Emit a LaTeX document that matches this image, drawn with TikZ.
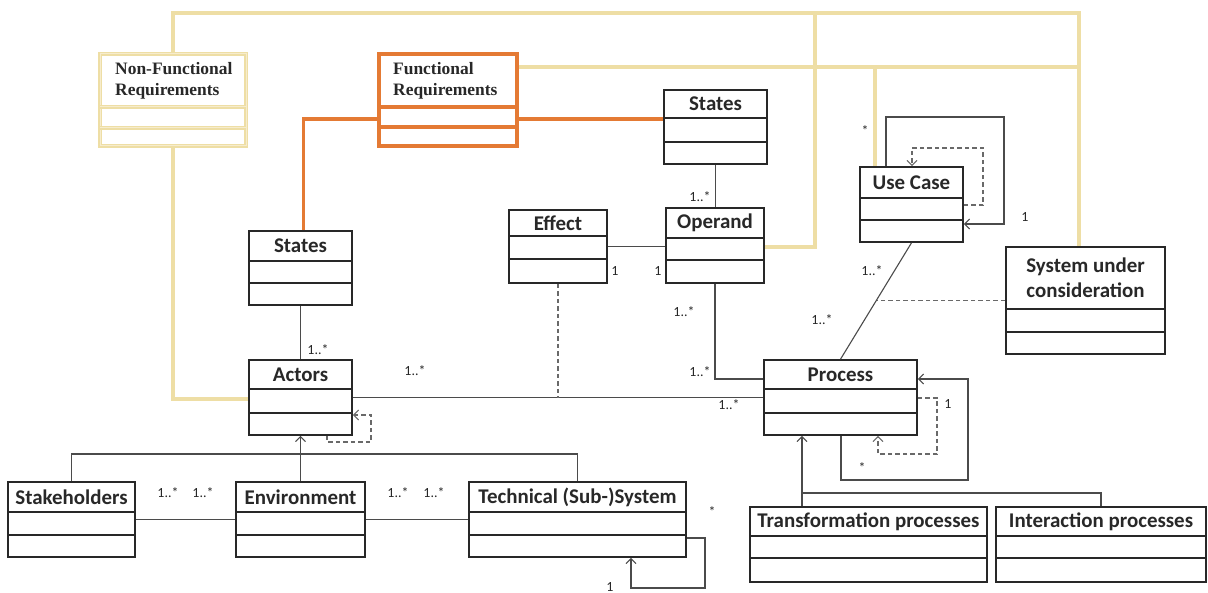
\documentclass[tikz,border=0pt]{standalone}
\usepackage{fontspec}
\setmainfont{Carlito}
\newfontfamily\nfrfont{Liberation Serif}
\usetikzlibrary{arrows.meta,fit,calc}
\definecolor{yel}{RGB}{238,222,165}
\definecolor{yelin}{RGB}{246,236,205}
\definecolor{ora}{RGB}{228,122,52}
\definecolor{ink}{RGB}{40,40,40}
\definecolor{lnk}{RGB}{75,75,75}
\definecolor{dlnk}{RGB}{105,105,105}
\tikzset{
 boxline/.style={draw=ink,line width=1.6bp},
 nfrbox/.style={draw=yel,line width=1.9bp,double=yelin,double distance=1bp},
 frbox/.style={draw=ora,line width=3.5bp},
 conn/.style={draw=lnk,line width=1.1bp},
 dsh/.style={draw=dlnk,line width=1.1bp,dash pattern=on 4.5bp off 3bp},
 sarrow/.style={-{Straight Barb[length=5bp,width=10bp]}},
 yline/.style={draw=yel,line width=3.5bp},
 oline/.style={draw=ora,line width=3.5bp},
 mult/.style={font=\fontsize{14}{16}\selectfont,inner sep=0pt,text=ink},
 hdr/.style={font=\fontsize{21}{25}\selectfont\bfseries,text=ink,inner sep=0pt,align=center},
 reqtxt/.style={font=\nfrfont\bfseries\fontsize{17.5}{21}\selectfont,text=ink,inner sep=0pt,align=left,anchor=north west},
}
% [style]{name}{x1}{y1}{x2}{y2}{d1}{d2}{text}
\newcommand\umlclass[9][boxline]{%
 \node[fit={(#3,#4) (#5,#6)},inner sep=0pt,#1] (#2) {};
 \draw[#1] (#3,#7) -- (#5,#7) (#3,#8) -- (#5,#8);
 \node[hdr] (#2-t) at ($(#3,#4)!0.5!(#5,#7)$) {#9};
}
\begin{document}
\begin{tikzpicture}[x=1bp,y=-1bp]
\fill[white] (0,0) rectangle (1208,593);
\useasboundingbox (0,0) rectangle (1208,593);

\coordinate (tr) at (1079,13);
\coordinate (t2) at (815,13);
\coordinate (t3) at (875,67);

% classes
\umlclass[nfrbox]{nfr}{100}{54}{246}{146}{107}{128}{}
\umlclass[frbox]{fr}{379}{54}{517}{146}{107}{127}{}
\umlclass{statesL}{249}{231}{352}{305}{261}{283}{States}
\umlclass{statesR}{664}{90}{767}{164}{118}{142}{States}
\umlclass{effect}{509}{210}{607}{283}{236}{259}{Effect}
\umlclass{operand}{666}{208}{764}{283}{238}{260}{Operand}
\umlclass{usecase}{860}{167}{963}{242}{198}{220}{Use Case}
\umlclass{suc}{1006}{247}{1165}{354}{309}{332}{System under\\consideration}
\umlclass{actors}{249}{360}{352}{435}{389}{413}{Actors}
\umlclass{process}{764}{360}{917}{435}{389}{413}{Process}
\umlclass{stake}{8}{482}{135}{557}{512}{535}{Stakeholders}
\umlclass{env}{236}{482}{365}{557}{512}{535}{Environment}
\umlclass{tech}{469}{482}{686}{557}{512}{535}{Technical (Sub-)System}
\umlclass{trans}{750}{507}{987}{582}{536}{558}{Transformation processes}
\umlclass{inter}{996}{507}{1206}{582}{536}{558}{Interaction processes}

\node[reqtxt] (nfrtext) at (115,62) {Non-Functional\\Requirements};
\node[reqtxt] (frtext) at (393,62) {Functional\\Requirements};

% yellow connectors
\draw[yline] ([yshift=1.5bp]nfr.north) |- (tr) -- (tr |- suc.north);
\draw[yline] (t2) |- (operand.east |- 0,247);
\draw[yline] (fr.east |- 0,67) -- (tr |- 0,67);
\draw[yline] (t3) -- (t3 |- usecase.north);
\draw[yline] ([yshift=-1.5bp]nfr.south) |- (actors.west |- 0,399);

% orange connectors
\draw[oline] (fr.west |- 0,119) -| ([xshift=3bp]statesL.north);
\draw[oline] (fr.east |- 0,119) -- (statesR.west |- 0,119);

% black connectors
\draw[conn] (statesR.south) -- (statesR.south |- operand.north);
\draw[conn] (operand.south) |- (process.west |- 0,379);
\draw[conn] (actors.east) -- (process.west);
\draw[dsh] (effect.south) -- (effect.south |- actors.east);
\draw[conn] (statesL.south) -- (actors.north);
\draw[conn] (effect.east) -- (effect.east -| operand.west);
\draw[conn] (usecase.south) -- (process.north) coordinate[pos=0.49] (m);
\draw[dsh] (suc.west) -- (suc.west -| m);

% self loops
\draw[conn,sarrow] (usecase.north -| 886,0) |- (1004,117) |- (usecase.east |- 0,224);
\draw[dsh,sarrow] (usecase.east |- 0,205) -| (983,148) -| (usecase.north -| 912,0);
\draw[conn,sarrow] (process.south -| 841,0) |- (968,480) |- (process.east |- 0,379);
\draw[dsh,sarrow] (process.east |- 0,398) -| (937,454) -| (process.south -| 878,0);
\draw[dsh,sarrow] (actors.south -| 327,0) |- (371,442) |- (actors.east |- 0,415);
\draw[conn,sarrow] (tech.east |- 0,538) -| (705,588) -| (tech.south -| 631,0);

% generalisations
\draw[conn] (stake.north) |- (tech.north |- 0,454) -- (tech.north);
\draw[conn,sarrow] (env.north) -- (actors.south);
\draw[conn] (stake.east) -- (env.west);
\draw[conn] (env.east) -- (tech.west);
\draw[conn,sarrow] (trans.north -| 802,0) -- (process.south -| 802,0);
\draw[conn] (inter.north) |- (802,493);

% multiplicities
\node[mult] (m01) at (700,197) {1..*};
\node[mult] (m02) at (615,271) {1};
\node[mult] (m03) at (658,271) {1};
\node[mult] (m04) at (865,131) {*};
\node[mult] (m05) at (1025,217) {1};
\node[mult] (m06) at (872,271) {1..*};
\node[mult] (m07) at (822,320) {1..*};
\node[mult] (m08) at (684,312) {1..*};
\node[mult] (m09) at (700,372) {1..*};
\node[mult] (m10) at (415,371) {1..*};
\node[mult] (m11) at (729,405) {1..*};
\node[mult] (m12) at (318,350) {1..*};
\node[mult] (m13) at (862,468) {*};
\node[mult] (m14) at (948,404) {1};
\node[mult] (m15) at (168,493) {1..*};
\node[mult] (m16) at (203,493) {1..*};
\node[mult] (m17) at (398,493) {1..*};
\node[mult] (m18) at (434,493) {1..*};
\node[mult] (m19) at (712,512) {*};
\node[mult] (m20) at (610,587) {1};
\end{tikzpicture}
\end{document}
